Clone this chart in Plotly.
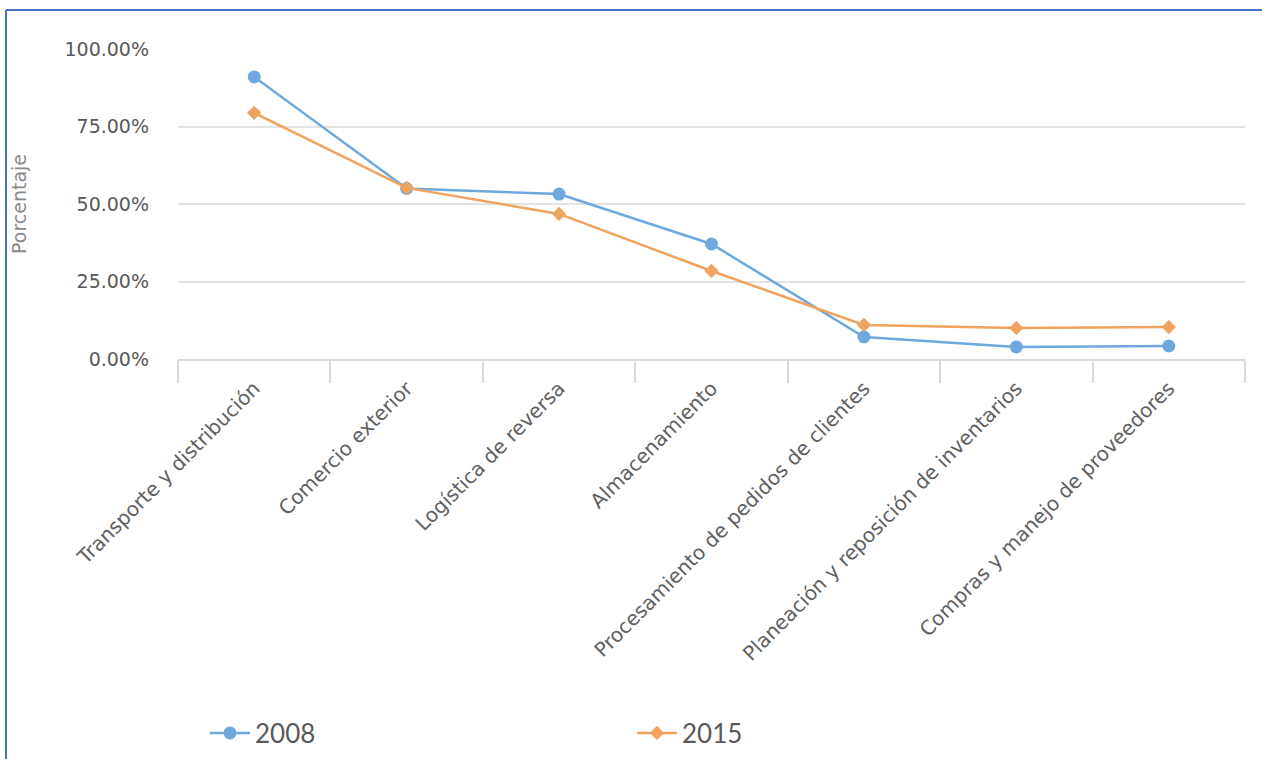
import plotly.graph_objects as go

categorias = [
    "Transporte y distribución",
    "Comercio exterior",
    "Logística de reversa",
    "Almacenamiento",
    "Procesamiento de pedidos de clientes",
    "Planeación y reposición de inventarios",
    "Compras y manejo de proveedores",
]
valores_2008 = [91.0, 55.0, 53.2, 37.1, 7.1, 3.9, 4.2]
valores_2015 = [79.4, 55.2, 46.8, 28.4, 11.0, 10.0, 10.3]
y_ticks = [0, 25, 50, 75, 100]
y_tick_labels = ["0.00%", "25.00%", "50.00%", "75.00%", "100.00%"]

FONT = "DejaVu Sans"
fig = go.Figure()
fig.add_trace(go.Scatter(
    x=categorias, y=valores_2008, name="2008", mode="lines+markers",
    line=dict(color="#6FA8DC", width=2.5),
    marker=dict(symbol="circle", size=13, color="#6FA8DC"),
))
fig.add_trace(go.Scatter(
    x=categorias, y=valores_2015, name="2015", mode="lines+markers",
    line=dict(color="#F0A35E", width=2.5),
    marker=dict(symbol="diamond", size=11, color="#F0A35E"),
))

fig.update_layout(
    width=1262, height=759,
    margin=dict(l=178, r=17, t=49, b=400),
    paper_bgcolor="white", plot_bgcolor="white",
    font=dict(family=FONT, color="#595959"),
    showlegend=True,
    legend=dict(
        orientation="h",
        x=205/1262, xref="container", xanchor="left",
        y=(759-733)/759, yref="container", yanchor="middle",
        entrywidth=372, entrywidthmode="pixels",
        font=dict(size=26, color="#595959", family="Lato"),
        itemwidth=40,
    ),
)

fig.update_xaxes(
    type="category", tickangle=-45, tickson="boundaries",
    ticks="outside", ticklen=22, tickcolor="#D9D9D9", tickwidth=1.5,
    showline=True, linecolor="#D9D9D9", linewidth=1.5,
    showgrid=False,
    tickfont=dict(size=20, color="#606060", family=FONT),
    ticklabelstandoff=8,
    range=[-0.5, 6.5],
)
fig.update_yaxes(
    range=[0, 100], tickvals=y_ticks, ticktext=y_tick_labels,
    showgrid=True, gridcolor="#E3E3E3", gridwidth=1.5,
    zeroline=False, showline=False, ticks="",
    tickfont=dict(size=19, color="#595959", family=FONT),
    ticklabelstandoff=28,
    title=dict(text="Porcentaje", font=dict(size=19, color="#8A8A8A", family=FONT), standoff=32),
)

# blue frame lines of the page
fig.add_shape(type="line", xref="paper", yref="paper",
              x0=-172/1067, x1=1262/1067, y0=(759-10-400)/310, y1=(759-10-400)/310,
              line=dict(color="#4472C4", width=2))
fig.add_shape(type="line", xref="paper", yref="paper",
              x0=-172/1067, x1=-172/1067, y0=(759-10-400)/310, y1=-400/310,
              line=dict(color="#4472C4", width=2))

fig.write_html("out.html")
